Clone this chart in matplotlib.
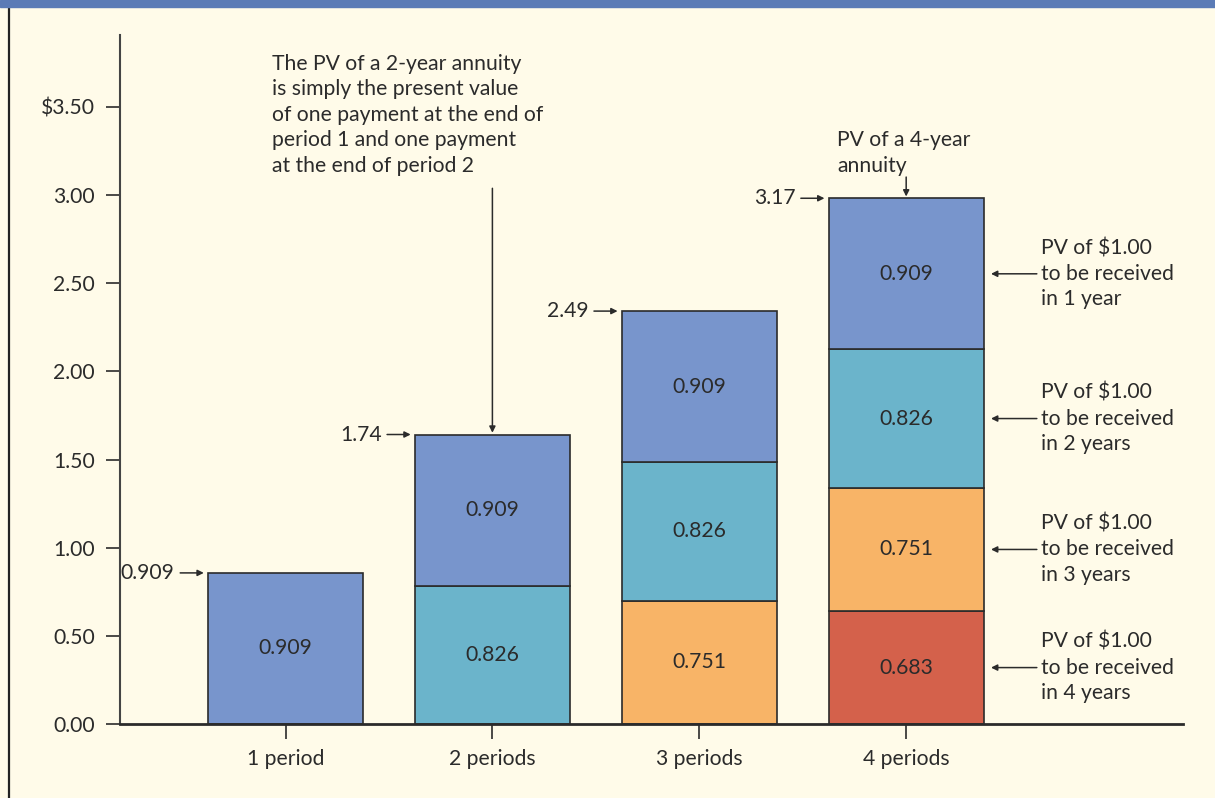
import matplotlib.pyplot as plt
from matplotlib.patches import Rectangle
from matplotlib.lines import Line2D

# PV of $1.00 received at end of year 1..4 (10% rate), as printed on the bars
pv_labels = ["0.909", "0.826", "0.751", "0.683"]
# drawn segment heights as they appear in the picture
pv_heights = [0.857, 0.785, 0.70, 0.64]
totals = ["0.909", "1.74", "2.49", "3.17"]
periods = ["1 period", "2 periods", "3 periods", "4 periods"]
year_notes = ["PV of $1.00\nto be received\nin 1 year",
              "PV of $1.00\nto be received\nin 2 years",
              "PV of $1.00\nto be received\nin 3 years",
              "PV of $1.00\nto be received\nin 4 years"]
yticks = [0, 0.5, 1.0, 1.5, 2.0, 2.5, 3.0, 3.5]
ytick_labels = ["0.00", "0.50", "1.00", "1.50", "2.00", "2.50", "3.00", "$3.50"]

colors = ["#7895cc", "#6bb4cb", "#f8b467", "#d4614b"]
bg = "#fffbe9"
ink = "#2b2b2b"
LS = 1.35

plt.rcParams["font.family"] = ["Lato", "DejaVu Sans"]
plt.rcParams["font.size"] = 15.2

fig = plt.figure(figsize=(12.15, 7.98), dpi=100, facecolor=bg)
ax = fig.add_axes([120 / 1215, 1 - 724 / 798, 1063 / 1215, 689 / 798])
ax.set_facecolor(bg)

# top blue band and left border
fig.lines.append(Line2D([8.5 / 1215, 8.5 / 1215], [0, 1 - 7 / 798], transform=fig.transFigure,
                        color="#222222", lw=1.6, solid_capstyle="butt", zorder=1))
fig.patches.append(Rectangle((0, 1 - 7 / 798), 1, 7 / 798, transform=fig.transFigure,
                             color="#5b7bb6", zorder=3))

width = 0.75
for i in range(4):
    x = i + 1
    n = i + 1
    # stack: earliest payment (0.909) on top, latest at the bottom
    order = list(range(n))[::-1]
    bottom = 0
    for k in order:
        h = pv_heights[k]
        ax.bar(x, h, width=width, bottom=bottom, color=colors[k], edgecolor=ink, linewidth=1.2,
               zorder=3)
        ax.text(x, bottom + h / 2, pv_labels[k], ha="center", va="center", color=ink, zorder=4)
        bottom += h
    # total label with arrow pointing at the bar's top-left corner
    ax.annotate(totals[i], xy=(x - width / 2 - 0.02, bottom), xytext=(-21, 0),
                textcoords="offset points", ha="right", va="center", color=ink,
                arrowprops=dict(arrowstyle="-|>", color=ink, lw=1.1, mutation_scale=9,
                                shrinkA=2, shrinkB=0))

top4 = sum(pv_heights)
top2 = pv_heights[0] + pv_heights[1]

# notes for the 4-period bar
ybase = 0
for k in range(3, -1, -1):
    yc = ybase + pv_heights[k] / 2
    ax.annotate(year_notes[k], xy=(4 + width / 2 + 0.035, yc), xytext=(36, 0),
                textcoords="offset points", ha="left", va="center", color=ink,
                linespacing=LS,
                arrowprops=dict(arrowstyle="-|>", color=ink, lw=1.1, mutation_scale=9,
                                shrinkA=1, shrinkB=0))
    ybase += pv_heights[k]

ax.annotate("", xy=(4, top4 + 0.01), xytext=(0, 14), textcoords="offset points",
            arrowprops=dict(arrowstyle="-|>", color=ink, lw=1.1, mutation_scale=9,
                            shrinkA=0, shrinkB=0))
ax.annotate("PV of a 4-year\nannuity", xy=(4 - width / 2, top4), xytext=(6, 16),
            textcoords="offset points", ha="left", va="bottom", color=ink, linespacing=LS)

ax.annotate("", xy=(2, top2 + 0.01), xytext=(0, 176), textcoords="offset points",
            arrowprops=dict(arrowstyle="-|>", color=ink, lw=1.1, mutation_scale=9,
                            shrinkA=0, shrinkB=0))
ax.text(0.143, 0.973, "The PV of a 2-year annuity\nis simply the present value\n"
        "of one payment at the end of\nperiod 1 and one payment\nat the end of period 2",
        transform=ax.transAxes, ha="left", va="top", color=ink, linespacing=LS)

ax.set_xlim(0.2, 5.338)
ax.set_ylim(0, 3.908)
ax.set_xticks([1, 2, 3, 4], periods)
ax.set_yticks(yticks, ytick_labels)
ax.tick_params(axis="y", length=10, width=1.2, pad=8, colors=ink, direction="out")
ax.tick_params(axis="x", length=11, width=1.2, pad=7, colors=ink, direction="out")
for s in ["top", "right"]:
    ax.spines[s].set_visible(False)
ax.spines["left"].set_color("#444444")
ax.spines["left"].set_linewidth(1.5)
ax.spines["bottom"].set_color(ink)
ax.spines["bottom"].set_linewidth(2)
ax.spines["bottom"].set_zorder(5)

fig.savefig("out.png", dpi=100, facecolor=bg)
